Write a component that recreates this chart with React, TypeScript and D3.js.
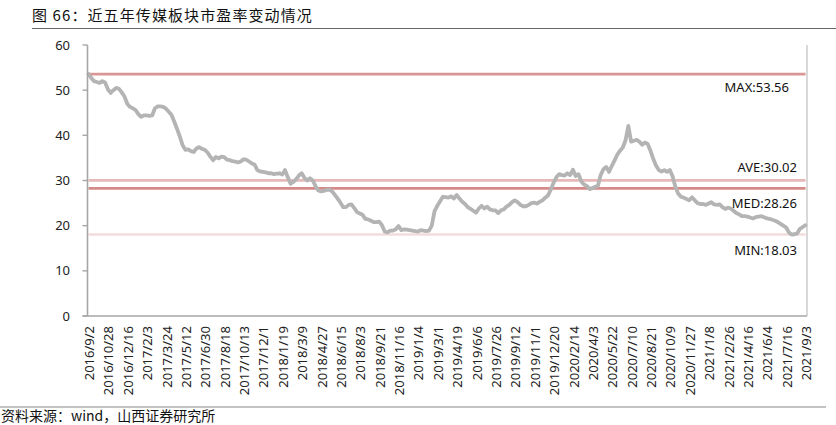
import React from "react";
import * as d3 from "d3";

const titleText = "图 66：近五年传媒板块市盈率变动情况";
const sourceText = "资料来源：wind，山西证券研究所";

const tickLabels = [
  "2016/9/2", "2016/10/28", "2016/12/16", "2017/2/3", "2017/3/24", "2017/5/12",
  "2017/6/30", "2017/8/18", "2017/10/13", "2017/12/1", "2018/1/19", "2018/3/9",
  "2018/4/27", "2018/6/15", "2018/8/3", "2018/9/21", "2018/11/16", "2019/1/4",
  "2019/3/1", "2019/4/19", "2019/6/6", "2019/7/26", "2019/9/12", "2019/11/1",
  "2019/12/20", "2020/2/14", "2020/4/3", "2020/5/22", "2020/7/10", "2020/8/21",
  "2020/10/9", "2020/11/27", "2021/1/8", "2021/2/26", "2021/4/16", "2021/6/4",
  "2021/7/16", "2021/9/3",
];
const LABEL_STEP = 7;

// weekly PE (TTM) of the media sector
const peValues = [
  53.56, 52.7, 52.0, 51.8, 51.6, 52.0, 51.7, 50.2, 49.4, 50.0,
  50.5, 50.3, 49.5, 48.6, 47.0, 46.3, 46.0, 45.6, 44.7, 44.1,
  44.4, 44.4, 44.3, 44.4, 46.0, 46.4, 46.4, 46.3, 45.9, 45.2,
  44.5, 43.0, 41.4, 39.7, 37.8, 36.8, 36.9, 36.5, 36.3, 37.1,
  37.4, 37.0, 36.8, 36.2, 35.3, 34.5, 35.2, 34.9, 35.3, 35.2,
  34.6, 34.5, 34.3, 34.2, 34.0, 34.2, 34.7, 34.6, 34.2, 33.8,
  33.5, 32.3, 32.0, 31.9, 31.8, 31.6, 31.6, 31.4, 31.5, 31.6,
  31.3, 32.3, 30.7, 29.3, 29.7, 30.3, 31.1, 31.6, 30.6, 30.0,
  30.5, 30.0, 28.8, 27.8, 27.6, 27.7, 27.9, 28.0, 27.6, 26.8,
  26.0, 25.1, 24.1, 24.1, 24.6, 24.7, 23.9, 23.0, 22.7, 22.4,
  21.5, 21.4, 21.1, 20.8, 20.8, 20.9, 20.1, 18.7, 18.5, 18.9,
  18.9, 19.2, 19.9, 19.0, 19.2, 19.1, 19.0, 18.9, 18.8, 18.7,
  19.0, 18.9, 18.8, 18.9, 20.0, 23.2, 24.4, 25.4, 26.4, 26.3,
  26.2, 26.5, 26.0, 26.8, 26.0, 25.3, 24.8, 24.1, 23.7, 23.3,
  22.9, 23.8, 24.4, 23.8, 24.2, 23.6, 23.4, 23.4, 22.8, 23.4,
  23.6, 24.2, 24.6, 25.2, 25.6, 25.2, 24.6, 24.3, 24.3, 24.6,
  25.0, 25.1, 24.9, 25.3, 25.6, 26.2, 26.7, 28.0, 29.5, 30.7,
  31.4, 31.2, 31.1, 31.6, 31.2, 32.4, 31.0, 31.4, 29.8, 29.1,
  28.8, 28.1, 28.3, 28.6, 28.8, 31.2, 32.5, 33.0, 31.9, 33.2,
  34.4, 35.7, 36.6, 37.3, 38.9, 42.1, 38.6, 38.8, 39.0, 38.6,
  37.9, 38.4, 38.1, 36.6, 34.8, 33.3, 32.3, 32.0, 32.3, 31.9,
  32.3, 30.9, 28.6, 27.1, 26.4, 26.2, 25.9, 25.6, 26.3, 25.6,
  25.0, 24.8, 24.8, 24.6, 24.9, 25.2, 24.7, 24.6, 24.7, 24.1,
  23.7, 24.0, 23.8, 23.3, 22.8, 22.5, 22.1, 22.1, 22.0, 21.8,
  21.6, 21.9, 22.0, 22.1, 21.9, 21.6, 21.5, 21.3, 21.1, 20.8,
  20.4, 20.0, 19.6, 18.5, 18.03, 18.1, 18.3, 19.3, 19.7, 20.1,
];

const refNames = ["MAX", "AVE", "MED", "MIN"];
const refValues = [53.56, 30.02, 28.26, 18.03];
const refColors = ["#d99694", "#e6b9b8", "#d48a88", "#f2dcdb"];
const yTicks = [0, 10, 20, 30, 40, 50, 60];

export default function App() {
  const left = 87.5;
  const right = 807;
  const top = 45;
  const bottom = 316;
  const x = d3
    .scaleLinear()
    .domain([0, peValues.length - 1])
    .range([88.5, 805.5]);
  const y = d3.scaleLinear().domain([0, 60]).range([bottom, top]);
  const line = d3
    .line<number>()
    .x((_, i) => x(i))
    .y((d) => y(d));

  const numFont = "'Noto Sans', 'DejaVu Sans', sans-serif";
  const cjkFont = "'Noto Sans CJK SC', 'Noto Sans', sans-serif";

  const labelPos = [
    { xr: 789, dy: 17.5 },
    { xr: 797, dy: -8.7 },
    { xr: 797, dy: 20 },
    { xr: 797, dy: 20.5 },
  ];

  return (
    <div style={{ position: "absolute", left: 0, top: 0 }}>
      <svg width={836} height={425} style={{ display: "block", background: "#fff" }}>
        <text x={32} y={21} fontFamily={cjkFont} fontSize={15} letterSpacing={1.1} fill="#111">
          {titleText}
        </text>
        <line x1={32} x2={836} y1={28.5} y2={28.5} stroke="#666" strokeWidth={1.2} />

        {refValues.map((v, i) => (
          <line
            key={"r" + i}
            x1={x(0)}
            x2={x(peValues.length - 1)}
            y1={y(v)}
            y2={y(v)}
            stroke={refColors[i]}
            strokeWidth={2.6}
          />
        ))}

        <path
          d={line(peValues) || ""}
          fill="none"
          stroke="#b4b4b4"
          strokeWidth={3.8}
          strokeLinejoin="round"
          strokeLinecap="round"
        />

        {refValues.map((v, i) => (
          <text
            key={"l" + i}
            x={labelPos[i].xr}
            y={y(v) + labelPos[i].dy}
            textAnchor="end"
            fontFamily={numFont}
            fontSize={13}
            fill="#111"
          >
            {refNames[i] + ":" + v.toFixed(2)}
          </text>
        ))}

        <line x1={left} x2={left} y1={top} y2={bottom} stroke="#a6a6a6" strokeWidth={1.6} />
        <line x1={right} x2={right} y1={top} y2={bottom} stroke="#bfbfbf" strokeWidth={1.2} />
        <line x1={left - 5} x2={right} y1={bottom} y2={bottom} stroke="#a6a6a6" strokeWidth={1.6} />
        {yTicks.map((t) => (
          <g key={"t" + t}>
            <line x1={left - 5} x2={left} y1={y(t)} y2={y(t)} stroke="#a6a6a6" strokeWidth={1.4} />
            <text
              x={70}
              y={y(t)}
              dy="0.35em"
              textAnchor="end"
              fontFamily={numFont}
              fontSize={13}
              fill="#222"
            >
              {t}
            </text>
          </g>
        ))}
        {tickLabels.map((lab, k) => {
          const px = x(k * LABEL_STEP) + 1;
          return (
            <text
              key={"x" + k}
              transform={`translate(${px},326) rotate(-90)`}
              dy="0.35em"
              textAnchor="end"
              fontFamily={numFont}
              fontSize={13}
              fill="#222"
            >
              {lab}
            </text>
          );
        })}

        <line x1={0} x2={826} y1={407} y2={407} stroke="#888" strokeWidth={1.2} />
        <text x={1} y={421} fontFamily={cjkFont} fontSize={14} fill="#111">
          {sourceText}
        </text>
      </svg>
    </div>
  );
}
